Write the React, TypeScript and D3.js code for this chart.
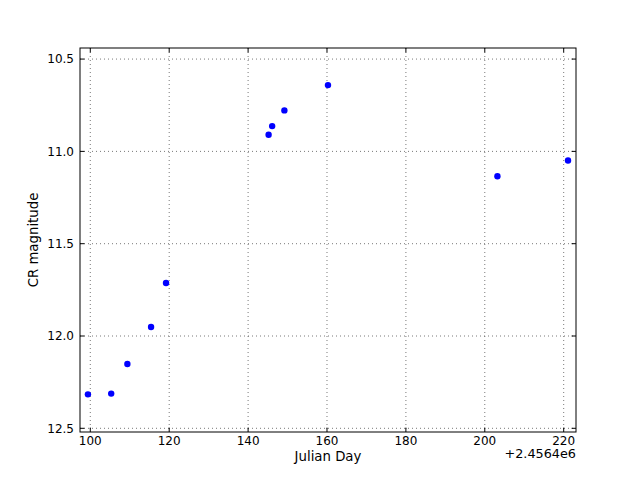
import React from "react";
import * as d3 from "d3";

const julianDays = [99.4, 105.3, 109.4, 115.4, 119.2, 145.2, 146.1, 149.2, 160.25, 203.2, 221.1];
const magnitudes = [12.316, 12.312, 12.152, 11.951, 11.713, 10.91, 10.863, 10.778, 10.641, 11.135, 11.049];
const xTicks = [100, 120, 140, 160, 180, 200, 220];
const yTicks = [10.5, 11.0, 11.5, 12.0, 12.5];
const xLabel = "Julian Day";
const yLabel = "CR magnitude";
const offsetText = "+2.4564e6";

const W = 640, H = 480;
const L = 80, R = 576, T = 48, B = 432;
const font = "'DejaVu Sans', sans-serif";
const fs = 12;
const lfs = 13.3;

export default function App() {
  const x = d3.scaleLinear().domain([97.39, 223.12]).range([L, R]);
  const y = d3.scaleLinear().domain([10.44, 12.52]).range([T, B]);
  const tl = 4.4;
  return (
    <svg width={W} height={H} style={{ position: "absolute", left: 0, top: 0, background: "#fff" }}>
      <rect x={0} y={0} width={W} height={H} fill="#fff" />
      {xTicks.map((t) => (
        <line key={"gx" + t} x1={x(t)} x2={x(t)} y1={T} y2={B} stroke="#555" strokeWidth={0.8} strokeDasharray="1,3" />
      ))}
      {yTicks.map((t) => (
        <line key={"gy" + t} x1={L} x2={R} y1={y(t)} y2={y(t)} stroke="#555" strokeWidth={0.8} strokeDasharray="1,3" />
      ))}
      {julianDays.map((d, i) => (
        <circle key={i} cx={x(d)} cy={y(magnitudes[i])} r={3.2} fill="#0000ff" />
      ))}
      <rect x={L} y={T} width={R - L} height={B - T} fill="none" stroke="#000" strokeWidth={1} />
      {xTicks.map((t) => (
        <g key={"tx" + t}>
          <line x1={x(t)} x2={x(t)} y1={B} y2={B - tl} stroke="#000" />
          <line x1={x(t)} x2={x(t)} y1={T} y2={T + tl} stroke="#000" />
          <text x={x(t)} y={B + 13} textAnchor="middle" fontFamily={font} fontSize={fs}>{t}</text>
        </g>
      ))}
      {yTicks.map((t) => (
        <g key={"ty" + t}>
          <line x1={L} x2={L + tl} y1={y(t)} y2={y(t)} stroke="#000" />
          <line x1={R} x2={R - tl} y1={y(t)} y2={y(t)} stroke="#000" />
          <text x={L - 6} y={y(t) + 4.3} textAnchor="end" fontFamily={font} fontSize={fs}>{t.toFixed(1)}</text>
        </g>
      ))}
      <text x={R} y={B + 25.5} textAnchor="end" fontFamily={font} fontSize={12.8}>{offsetText}</text>
      <text x={(L + R) / 2} y={B + 29} textAnchor="middle" fontFamily={font} fontSize={lfs}>{xLabel}</text>
      <text transform={`translate(38,${(T + B) / 2}) rotate(-90)`} textAnchor="middle" fontFamily={font} fontSize={lfs}>{yLabel}</text>
    </svg>
  );
}
